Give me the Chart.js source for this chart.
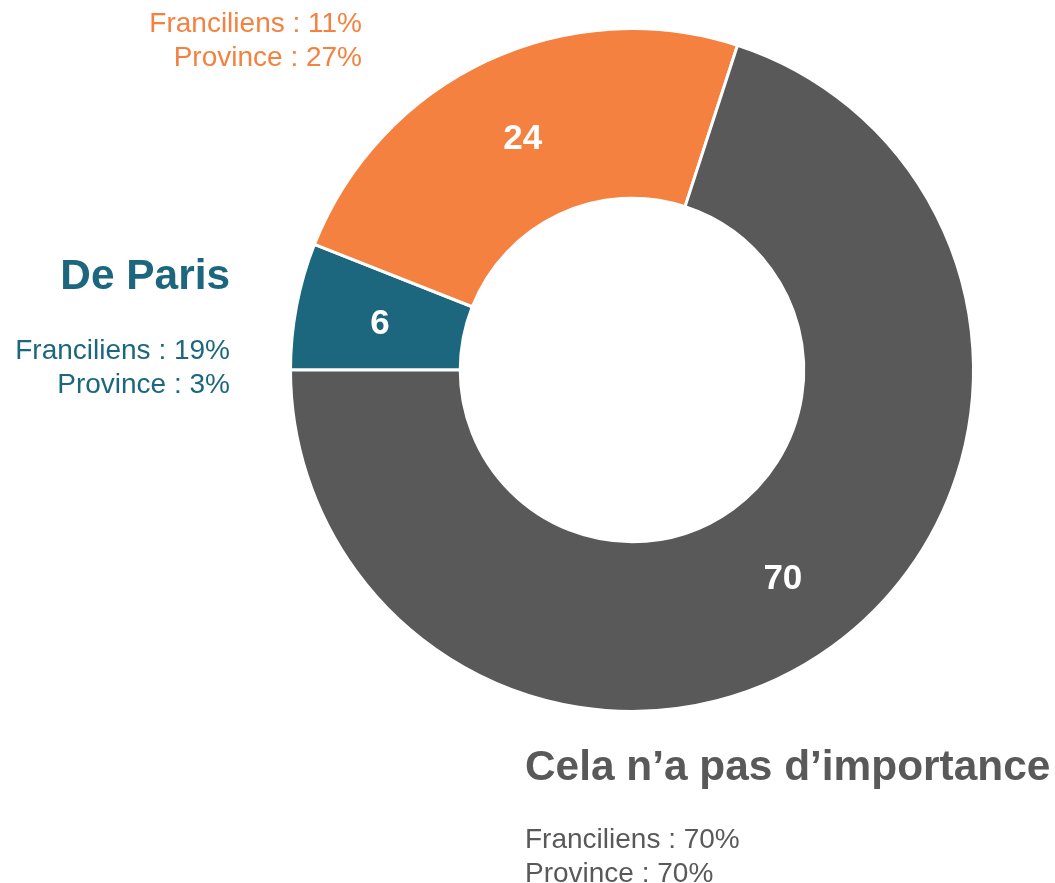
<!DOCTYPE html>
<html>
<head>
<meta charset="utf-8">
<script src="https://cdn.jsdelivr.net/npm/chart.js@4.4.0/dist/chart.umd.min.js"></script>
<style>
  html, body { margin: 0; padding: 0; background: #fff; }
  #wrap { width: 1055px; height: 883px; position: relative; }
</style>
</head>
<body>
<div id="wrap"><canvas id="donut"></canvas></div>
<script>
// data
const categories = ["De Paris", "", "Cela n\u2019a pas d\u2019importance"];
const values = [6, 24, 70];
const franciliens = [19, 11, 70];
const province = [3, 27, 70];
const colors = ["#1c677e", "#f4813f", "#595959"];

const FONT = '"Liberation Sans", Arial, sans-serif';

// numbers inside the ring
const valueLabels = {
    id: 'valueLabels',
    afterDatasetsDraw(chart) {
        const ctx = chart.ctx;
        const meta = chart.getDatasetMeta(0);
        ctx.save();
        ctx.fillStyle = '#fff';
        ctx.font = 'bold 35px ' + FONT;
        ctx.textAlign = 'center';
        ctx.textBaseline = 'middle';
        meta.data.forEach(function (arc, i) {
            const p = arc.tooltipPosition();
            ctx.fillText(values[i], p.x, p.y + 2);
        });
        ctx.restore();
    }
};

// side captions, one block per category
const captions = {
    id: 'captions',
    afterDraw(chart) {
        const ctx = chart.ctx;
        // [x, titleBaseline, firstLineBaseline, align]
        const spots = [
            [230, 289, 359, 'right'],
            [362, null, 32, 'right'],
            [525, 780, 848, 'left']
        ];
        ctx.save();
        spots.forEach(function (s, i) {
            ctx.fillStyle = colors[i];
            ctx.textAlign = s[3];
            ctx.textBaseline = 'alphabetic';
            if (s[1] !== null && categories[i]) {
                ctx.font = 'bold 42.4px ' + FONT;
                ctx.fillText(categories[i], s[0], s[1]);
            }
            ctx.font = '28px ' + FONT;
            ctx.fillText('Franciliens : ' + franciliens[i] + '%', s[0], s[2]);
            ctx.fillText('Province : ' + province[i] + '%', s[0], s[2] + 34);
        });
        ctx.restore();
    }
};

const chart = new Chart(document.getElementById('donut'), {
    type: 'doughnut',
    data: {
        labels: categories,
        datasets: [{
            data: values,
            backgroundColor: colors,
            borderColor: '#ffffff',
            borderWidth: 3
        }]
    },
    options: {
        responsive: true,
        maintainAspectRatio: false,
        animation: false,
        rotation: -90,
        cutout: '50.3%',
        layout: {
            padding: { left: 289, top: 27, right: 80, bottom: 170 }
        },
        plugins: {
            legend: { display: false },
            tooltip: { enabled: false }
        }
    },
    plugins: [valueLabels, captions]
});
</script>
</body>
</html>
